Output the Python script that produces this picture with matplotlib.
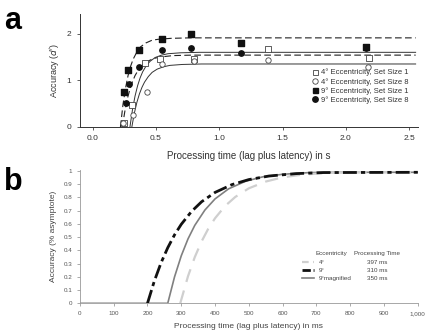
import numpy as np
import matplotlib.pyplot as plt
from matplotlib.lines import Line2D

plt.rcParams['font.family'] = ['Liberation Sans', 'DejaVu Sans']

# ---- panel a: accuracy (d') vs processing time (s) ----
sq4_t = [0.247, 0.315, 0.41, 0.53, 0.80, 1.386, 2.18]
sq4_d = [0.09, 0.47, 1.38, 1.46, 1.45, 1.68, 1.47]
ci4_t = [0.237, 0.32, 0.426, 0.545, 0.80, 1.386, 2.175]
ci4_d = [0.08, 0.26, 0.76, 1.34, 1.42, 1.43, 1.29]
sq9_t = [0.25, 0.28, 0.365, 0.545, 0.776, 1.175, 2.16]
sq9_d = [0.76, 1.22, 1.66, 1.88, 1.99, 1.79, 1.72]
ci9_t = [0.26, 0.29, 0.37, 0.547, 0.776, 1.175, 2.16]
ci9_d = [0.52, 0.92, 1.28, 1.66, 1.69, 1.59, 1.69]

# fitted curves
fit9_1_t = [0.22, 0.24, 0.26, 0.28, 0.30, 0.32, 0.35, 0.38, 0.42, 0.47, 0.52, 0.62, 0.77, 2.55]
fit9_1_d = [0, 0.48, 0.83, 1.10, 1.30, 1.45, 1.61, 1.72, 1.80, 1.86, 1.88, 1.90, 1.91, 1.91]
fit9_8_t = [0.235, 0.255, 0.275, 0.295, 0.315, 0.335, 0.365, 0.395, 0.435, 0.485, 0.535, 0.635, 0.785, 2.55]
fit9_8_d = [0, 0.34, 0.61, 0.81, 0.97, 1.10, 1.24, 1.33, 1.41, 1.47, 1.50, 1.53, 1.54, 1.54]
fit4_1_t = [0.295, 0.315, 0.335, 0.355, 0.375, 0.395, 0.425, 0.455, 0.495, 0.545, 0.595, 0.695, 0.845, 2.55]
fit4_1_d = [0, 0.37, 0.66, 0.88, 1.05, 1.18, 1.32, 1.41, 1.49, 1.54, 1.57, 1.59, 1.60, 1.60]
fit4_8_t = [0.31, 0.33, 0.35, 0.37, 0.39, 0.41, 0.44, 0.47, 0.51, 0.56, 0.61, 0.71, 0.86, 2.55]
fit4_8_d = [0, 0.30, 0.53, 0.71, 0.85, 0.96, 1.08, 1.17, 1.24, 1.29, 1.32, 1.34, 1.35, 1.35]

legend_a = ['4° Eccentricity, Set Size 1', '4° Eccentricity, Set Size 8',
            '9° Eccentricity, Set Size 1', '9° Eccentricity, Set Size 8']

# ---- panel b: accuracy (% asymptote) vs processing time (ms) ----
ecc9_t = [200, 220, 240, 260, 280, 300, 330, 360, 400, 450, 500, 560, 640, 720, 1000]
ecc9_y = [0, 0.166, 0.305, 0.420, 0.517, 0.597, 0.693, 0.767, 0.838, 0.897, 0.935, 0.962, 0.980, 0.988, 0.99]
mag9_t = [0, 260, 280, 300, 320, 340, 370, 400, 440, 490, 540, 600, 680, 760, 1000]
mag9_y = [0, 0, 0.199, 0.359, 0.487, 0.589, 0.705, 0.789, 0.865, 0.922, 0.955, 0.975, 0.988, 0.99, 0.99]
ecc4_t = [297, 320, 340, 360, 380, 400, 430, 460, 500, 550, 600, 660, 740, 820, 1000]
ecc4_y = [0, 0.205, 0.349, 0.467, 0.564, 0.643, 0.736, 0.804, 0.869, 0.920, 0.952, 0.973, 0.986, 0.99, 0.99]

legend_b = ['4°', '9°', '9°magnified']
legend_b_ms = ['397 ms', '310 ms', '350 ms']

txt = '#333333'
fig = plt.figure(figsize=(4.25, 3.35), dpi=100)

# ---------- a ----------
ax = fig.add_axes([0.188, 0.621, 0.795, 0.337])
ax.plot(fit9_1_t, fit9_1_d, color='#222222', lw=0.8, dashes=(6, 3))
ax.plot(fit9_8_t, fit9_8_d, color='#222222', lw=0.8, dashes=(6, 3))
ax.plot(fit4_1_t, fit4_1_d, color='#333333', lw=0.7)
ax.plot(fit4_8_t, fit4_8_d, color='#333333', lw=0.7)
ax.scatter(sq4_t, sq4_d, marker='s', s=13, facecolor='white', edgecolor='#444444', lw=0.6, zorder=3)
ax.scatter(ci4_t, ci4_d, marker='o', s=15, facecolor='white', edgecolor='#444444', lw=0.6, zorder=3)
ax.scatter(sq9_t, sq9_d, marker='s', s=13, color='#111111', zorder=3)
ax.scatter(ci9_t, ci9_d, marker='o', s=15, color='#111111', zorder=3)
ax.set_xlim(-0.10, 2.567)
ax.set_ylim(0, 2.42)
ax.set_xticks([0.0, 0.5, 1.0, 1.5, 2.0, 2.5])
ax.set_xticklabels(['0.0', '0.5', '1.0', '1.5', '2.0', '2.5'])
ax.set_yticks([0, 1, 2])
ax.tick_params(labelsize=6, colors='#444444', length=2.5, width=0.6, labelcolor=txt)
for s in ['top', 'right']:
    ax.spines[s].set_visible(False)
for s in ['left', 'bottom']:
    ax.spines[s].set_color('#333333')
    ax.spines[s].set_linewidth(0.7)
ax.set_xlabel('Processing time (lag plus latency) in s', fontsize=7, color=txt, labelpad=6)
ax.set_ylabel("Accuracy ($d'$)", fontsize=6.5, color=txt, labelpad=4)
handles = [
    Line2D([], [], ls='none', marker='s', ms=3.6, mfc='white', mec='#444444', mew=0.6),
    Line2D([], [], ls='none', marker='o', ms=3.9, mfc='white', mec='#444444', mew=0.6),
    Line2D([], [], ls='none', marker='s', ms=3.6, color='#111111'),
    Line2D([], [], ls='none', marker='o', ms=3.9, color='#111111'),
]
leg = ax.legend(handles, legend_a, loc='lower right', bbox_to_anchor=(0.985, 0.17),
                frameon=False, fontsize=5.5, handlelength=0.8, handletextpad=0.4,
                labelspacing=0.2, borderpad=0)
for t in leg.get_texts():
    t.set_color(txt)

# ---------- b ----------
bx = fig.add_axes([0.188, 0.0946, 0.795, 0.397])
bx.plot(mag9_t, mag9_y, color='#808080', lw=1.2)
bx.plot(ecc4_t, ecc4_y, color='#cfcfcf', lw=1.6, dashes=(6, 4))
bx.plot(ecc9_t, ecc9_y, color='#111111', lw=2.0, dashes=(5, 1.5, 1.5, 1.5))
bx.set_xlim(0, 1000)
bx.set_ylim(0, 1.005)
bx.set_xticks(np.arange(0, 1001, 100))
bx.set_xticklabels(['0', '100', '200', '300', '400', '500', '600', '700', '800', '900', '1,000'])
bx.set_yticks(np.arange(0, 1.01, 0.1))
bx.set_yticklabels(['0', '0.1', '0.2', '0.3', '0.4', '0.5', '0.6', '0.7', '0.8', '0.9', '1'])
bx.tick_params(labelsize=4.5, colors='#888888', length=2, width=0.5, labelcolor='#555555')
for s in ['top', 'right']:
    bx.spines[s].set_visible(False)
for s in ['left', 'bottom']:
    bx.spines[s].set_color('#999999')
    bx.spines[s].set_linewidth(0.6)
bx.set_xlabel('Processing time (lag plus latency) in ms', fontsize=6, color='#444444', labelpad=5)
bx.set_ylabel('Accuracy (% asymptote)', fontsize=6, color='#444444', labelpad=5)

# custom two-column legend
styles = [dict(color='#cfcfcf', lw=1.6, dashes=(3, 2)),
          dict(color='#111111', lw=2.0, dashes=(3, 1, 1, 1)),
          dict(color='#808080', lw=1.2)]
fx = lambda px: px / 425
fy = lambda py: 1 - py / 335
fig.text(fx(331), fy(253), 'Eccentricity', fontsize=4.5, color='#444444', ha='center', va='center')
fig.text(fx(377), fy(253), 'Processing Time', fontsize=4.5, color='#444444', ha='center', va='center')
for i, (lab, ms) in enumerate(zip(legend_b, legend_b_ms)):
    yy = fy(262 + 8.2 * i)
    fig.add_artist(Line2D([fx(302), fx(314)], [yy, yy], **styles[i]))
    fig.text(fx(319), yy, lab, fontsize=4.5, color='#444444', va='center')
    fig.text(fx(367), yy, ms, fontsize=4.5, color='#444444', va='center')

# panel letters
fig.text(fx(4), fy(29), 'a', fontsize=22, fontweight='bold', va='baseline')
fig.text(fx(4), fy(190), 'b', fontsize=22, fontweight='bold', va='baseline')

fig.savefig('out.png', dpi=100)
